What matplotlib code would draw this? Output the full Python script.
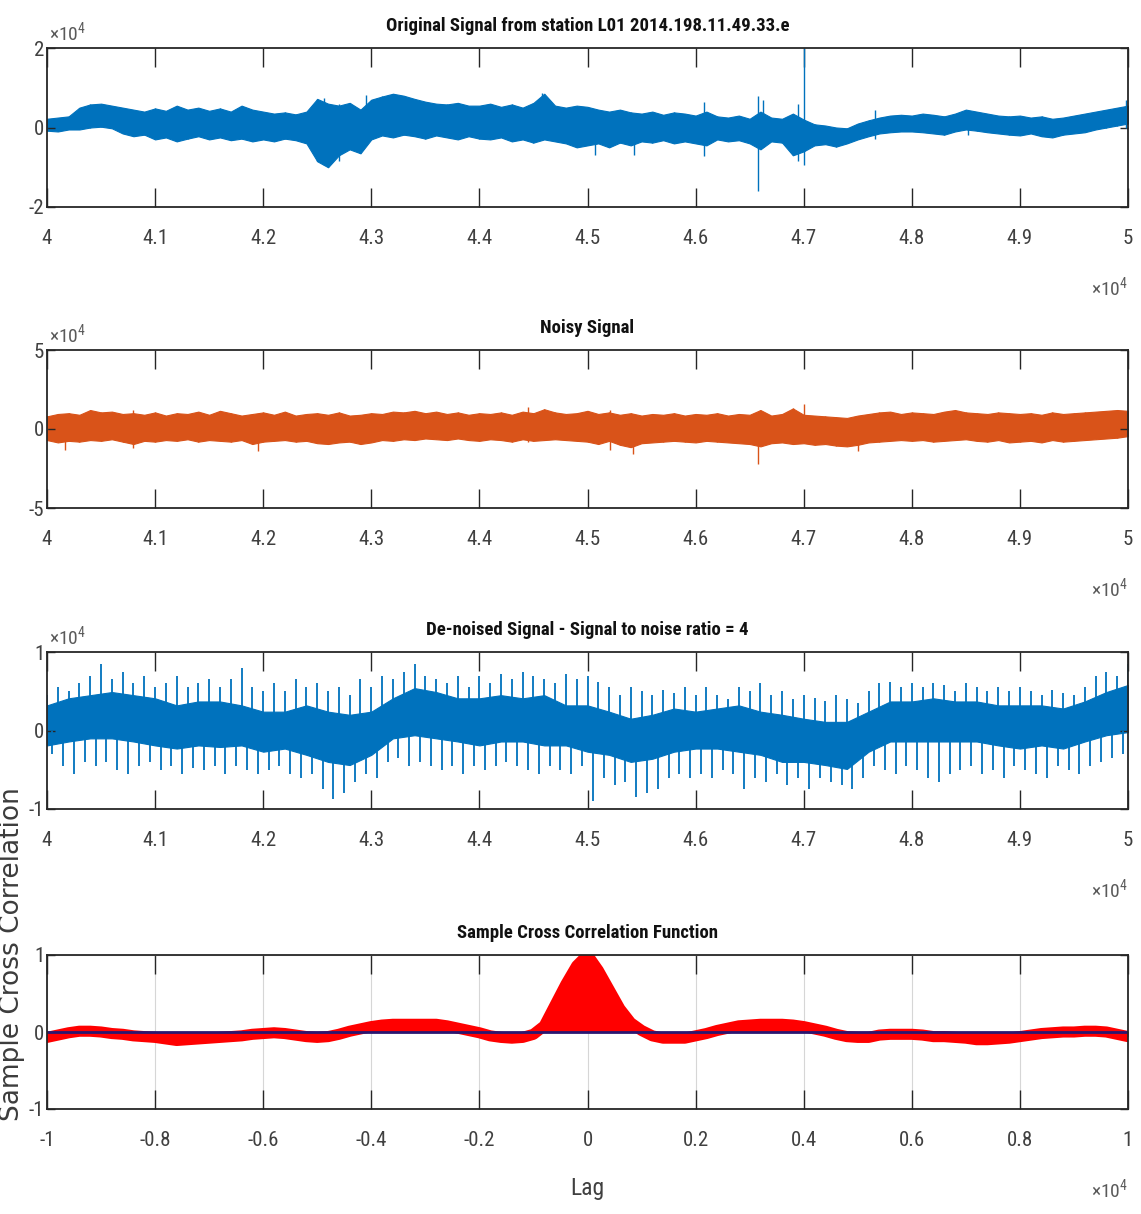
import matplotlib
matplotlib.use('Agg')
import matplotlib.pyplot as plt
import numpy as np

# fonts: condensed sans for the squeezed MATLAB look, plain sans for the side label
NARROW = ['Roboto Condensed', 'Noto Sans', 'DejaVu Sans']
plt.rcParams['font.family'] = NARROW
SIDE_FONT = ['DejaVu Sans']

# ---------------- data (x in units of 1e4 samples, y in units of 1e4) -------------
grid_x = [4 + 0.01 * i for i in range(101)]        # reading positions, every 100 samples
grid_x2 = [4 + 0.02 * i for i in range(51)]        # coarser readings, every 200 samples

# original signal, band envelope
orig_hi = [0.22, 0.25, 0.28,
           0.50, 0.58, 0.60, 0.55,
           0.50, 0.45, 0.40,
           0.48, 0.42, 0.55, 0.45, 0.50, 0.42, 0.48, 0.40, 0.55, 0.45,
           0.40, 0.35, 0.38, 0.33, 0.40,
           0.72, 0.60, 0.55, 0.62, 0.45,
           0.70, 0.78, 0.85, 0.80, 0.72, 0.65, 0.60, 0.58, 0.62, 0.55,
           0.55, 0.60, 0.52, 0.58, 0.50, 0.62, 0.85, 0.55, 0.50, 0.55,
           0.52, 0.45, 0.40, 0.45, 0.38, 0.35, 0.40, 0.32, 0.38, 0.35,
           0.30, 0.40, 0.28, 0.25, 0.30, 0.22, 0.40, 0.25, 0.22, 0.35,
           0.20, 0.08, 0.05, 0.00, -0.02, 0.10, 0.18, 0.25, 0.30, 0.32,
           0.30, 0.35, 0.32, 0.28, 0.35, 0.45, 0.40, 0.35, 0.30, 0.28,
           0.30, 0.25, 0.28, 0.22, 0.25, 0.30, 0.35, 0.40, 0.45, 0.50,
           0.55]
orig_lo = [-0.08, -0.10, -0.05,
           -0.05, 0.00, 0.02, -0.02,
           -0.15, -0.22, -0.18,
           -0.30, -0.25, -0.35, -0.28, -0.22, -0.30, -0.25, -0.32, -0.28, -0.35,
           -0.30, -0.35, -0.28, -0.32, -0.40,
           -0.85, -1.00, -0.70, -0.55, -0.65,
           -0.30, -0.20, -0.25, -0.18, -0.22, -0.28, -0.20, -0.25, -0.30, -0.22,
           -0.28, -0.30, -0.25, -0.35, -0.30, -0.38, -0.30, -0.35, -0.40, -0.50,
           -0.45, -0.40, -0.50, -0.38, -0.45, -0.35, -0.38, -0.32, -0.40, -0.35,
           -0.40, -0.45, -0.30, -0.35, -0.32, -0.40, -0.55, -0.35, -0.38, -0.70,
           -0.60, -0.45, -0.42, -0.48, -0.40, -0.30, -0.22, -0.15, -0.12, -0.10,
           -0.10, -0.12, -0.15, -0.18, -0.10, -0.05, -0.08, -0.12, -0.15, -0.18,
           -0.20, -0.15, -0.22, -0.25, -0.18, -0.15, -0.12, -0.05, 0.00, 0.05,
           0.10]
orig_spk_x = [4.256, 4.270, 4.295, 4.458, 4.507, 4.543, 4.608, 4.658, 4.662, 4.695, 4.700, 4.766, 4.852, 4.998]
orig_spk_hi = [0.75, 0.60, 0.82, 0.88, 0.20, 0.30, 0.65, 0.80, 0.70, 0.60, 2.00, 0.45, 0.40, 0.70]
orig_spk_lo = [-0.95, -0.85, -0.20, -0.30, -0.70, -0.70, -0.72, -1.60, -0.50, -0.85, -0.95, -0.30, -0.20, 0.00]

# noisy signal, band envelope
noisy_hi = [0.80, 0.95, 1.00, 0.90, 1.20, 1.05, 1.10, 0.95, 1.00, 0.90,
            1.05, 0.85, 1.00, 0.95, 1.10, 0.90, 1.15, 1.00, 0.85, 0.95,
            1.05, 0.90, 1.10, 0.85, 0.95, 1.00, 0.90, 1.05, 0.85, 0.90,
            1.00, 0.95, 1.10, 1.05, 1.15, 1.00, 1.10, 0.95, 1.05, 0.90,
            1.00, 0.95, 1.05, 0.90, 1.10, 1.00, 1.25, 1.05, 0.95, 1.00,
            1.15, 0.95, 1.05, 0.90, 1.00, 0.85, 0.95, 0.90, 1.00, 0.85,
            0.95, 0.90, 1.00, 0.85, 0.95, 0.90, 1.20, 0.85, 0.95, 1.30,
            0.90, 0.85, 0.80, 0.75, 0.70, 0.85, 0.95, 1.05, 1.10, 0.95,
            1.05, 1.00, 0.95, 1.10, 1.20, 1.05, 1.00, 0.95, 1.05, 1.00,
            0.95, 1.00, 0.90, 1.05, 0.95, 1.00, 1.05, 1.10, 1.15, 1.20,
            1.15]
noisy_lo = [-0.70, -0.85, -0.75, -0.80, -0.70, -0.75, -0.65, -0.80, -0.95, -0.75,
            -0.80, -0.70, -0.75, -0.65, -0.80, -0.70, -0.75, -0.80, -0.70, -0.95,
            -0.80, -0.75, -0.70, -0.80, -0.75, -0.90, -0.95, -0.85, -0.80, -0.95,
            -0.85, -0.70, -0.75, -0.65, -0.70, -0.60, -0.65, -0.70, -0.60, -0.70,
            -0.75, -0.65, -0.70, -0.80, -0.65, -0.75, -0.70, -0.65, -0.70, -0.75,
            -0.80, -0.95, -0.75, -1.00, -1.15, -0.90, -0.85, -0.80, -0.75, -0.80,
            -0.85, -0.75, -0.80, -0.85, -0.90, -0.95, -1.10, -0.90, -0.85, -0.95,
            -0.90, -1.00, -0.95, -1.05, -1.10, -1.00, -0.85, -0.80, -0.75, -0.70,
            -0.75, -0.70, -0.80, -0.75, -0.70, -0.65, -0.75, -0.80, -0.70, -0.85,
            -0.80, -0.75, -0.85, -0.70, -0.80, -0.75, -0.70, -0.65, -0.60, -0.55,
            -0.45]
noisy_spk_x = [4.017, 4.080, 4.195, 4.445, 4.521, 4.542, 4.658, 4.700, 4.750]
noisy_spk_hi = [0.90, 1.20, 0.80, 1.40, 1.20, 0.90, 1.00, 1.60, 0.70]
noisy_spk_lo = [-1.30, -1.20, -1.40, -0.80, -1.30, -1.60, -2.20, -0.90, -1.40]

# de-noised signal: dense core (every 200 samples), spike peaks and troughs (every 100)
den_core_hi = [0.32, 0.41, 0.45, 0.49, 0.45, 0.41, 0.32, 0.37, 0.37, 0.32,
               0.24, 0.24, 0.32, 0.24, 0.20, 0.24, 0.41, 0.54, 0.49, 0.41,
               0.41, 0.45, 0.41, 0.45, 0.32, 0.32, 0.24, 0.15, 0.20, 0.28,
               0.24, 0.28, 0.32, 0.24, 0.20, 0.15, 0.11, 0.11, 0.24, 0.37,
               0.37, 0.41, 0.37, 0.37, 0.32, 0.32, 0.32, 0.28, 0.37, 0.49, 0.58]
den_core_lo = [-0.19, -0.14, -0.10, -0.10, -0.14, -0.19, -0.23, -0.19, -0.21, -0.19,
               -0.27, -0.23, -0.31, -0.40, -0.44, -0.31, -0.10, -0.06, -0.10, -0.14,
               -0.19, -0.14, -0.14, -0.19, -0.19, -0.27, -0.31, -0.40, -0.36, -0.27,
               -0.23, -0.23, -0.27, -0.31, -0.40, -0.40, -0.44, -0.49, -0.27, -0.14,
               -0.14, -0.14, -0.14, -0.14, -0.19, -0.23, -0.19, -0.23, -0.14, -0.06, -0.02]
den_spk_hi = [0.45, 0.55, 0.50, 0.60, 0.70, 0.85, 0.65, 0.75, 0.60, 0.70,
              0.55, 0.60, 0.70, 0.55, 0.60, 0.65, 0.55, 0.65, 0.80, 0.55,
              0.50, 0.60, 0.50, 0.65, 0.55, 0.60, 0.50, 0.55, 0.45, 0.65,
              0.55, 0.70, 0.65, 0.75, 0.85, 0.70, 0.65, 0.60, 0.70, 0.55,
              0.70, 0.60, 0.72, 0.65, 0.75, 0.70, 0.65, 0.60, 0.72, 0.65,
              0.70, 0.62, 0.55, 0.45, 0.55, 0.50, 0.45, 0.52, 0.48, 0.55,
              0.45, 0.55, 0.45, 0.40, 0.55, 0.50, 0.60, 0.45, 0.50, 0.40,
              0.45, 0.42, 0.38, 0.45, 0.40, 0.35, 0.50, 0.60, 0.62, 0.55,
              0.60, 0.55, 0.60, 0.58, 0.50, 0.60, 0.55, 0.50, 0.55, 0.50,
              0.55, 0.50, 0.45, 0.52, 0.48, 0.45, 0.55, 0.70, 0.75, 0.70, 0.85]
den_spk_lo = [-0.30, -0.45, -0.55, -0.40, -0.45, -0.40, -0.50, -0.55, -0.45, -0.40,
              -0.50, -0.45, -0.55, -0.48, -0.50, -0.45, -0.55, -0.45, -0.50, -0.55,
              -0.50, -0.45, -0.55, -0.60, -0.55, -0.75, -0.87, -0.80, -0.65, -0.55,
              -0.60, -0.40, -0.35, -0.45, -0.40, -0.45, -0.50, -0.45, -0.55, -0.45,
              -0.50, -0.45, -0.40, -0.45, -0.50, -0.55, -0.45, -0.50, -0.55, -0.45,
              -0.90, -0.60, -0.70, -0.65, -0.85, -0.80, -0.75, -0.60, -0.55, -0.60,
              -0.55, -0.60, -0.50, -0.55, -0.75, -0.60, -0.65, -0.55, -0.70, -0.60,
              -0.75, -0.60, -0.65, -0.70, -0.75, -0.60, -0.45, -0.50, -0.55, -0.45,
              -0.50, -0.60, -0.65, -0.55, -0.50, -0.45, -0.55, -0.50, -0.60, -0.45,
              -0.50, -0.55, -0.60, -0.45, -0.50, -0.55, -0.45, -0.40, -0.35, -0.30, -0.25]
den_trough_x = [x + 0.005 for x in grid_x]          # troughs read half way between peaks

# sample cross correlation, lag in units of 1e4, every 200 lags
lags = [-1 + 0.02 * i for i in range(101)]
xcorr = [-0.07, -0.04, -0.01, 0.01, 0.01, 0.00, -0.02, -0.03, -0.05, -0.06,
         -0.07, -0.09, -0.11, -0.10, -0.09, -0.08, -0.07, -0.06, -0.05, -0.03,
         -0.02, -0.01, -0.02, -0.04, -0.06, -0.07, -0.06, -0.03, 0.01, 0.04,
         0.07, 0.09, 0.10, 0.10, 0.10, 0.10, 0.10, 0.08, 0.05, 0.02,
         -0.01, -0.05, -0.07, -0.08, -0.07, -0.03, 0.08,
         0.35, 0.62, 0.86, 1.00, 0.80, 0.55, 0.30, 0.12, 0.02,
         -0.05, -0.08, -0.08, -0.08, -0.05, -0.02, 0.02, 0.05, 0.08, 0.09,
         0.10, 0.10, 0.10, 0.09, 0.07, 0.04, 0.01, -0.03, -0.06, -0.07,
         -0.07, -0.04, -0.03, -0.03, -0.03, -0.04, -0.06, -0.06, -0.07, -0.08,
         -0.10, -0.10, -0.09, -0.08, -0.06, -0.04, -0.02, -0.01, 0.00, 0.00,
         0.01, 0.01, 0.00, -0.03, -0.06]

sig_ticks = [4, 4.1, 4.2, 4.3, 4.4, 4.5, 4.6, 4.7, 4.8, 4.9, 5]
sig_ticklabels = ['4', '4.1', '4.2', '4.3', '4.4', '4.5', '4.6', '4.7', '4.8', '4.9', '5']
lag_ticks = [-1, -0.8, -0.6, -0.4, -0.2, 0, 0.2, 0.4, 0.6, 0.8, 1]
lag_ticklabels = ['-1', '-0.8', '-0.6', '-0.4', '-0.2', '0', '0.2', '0.4', '0.6', '0.8', '1']

titles = ['Original Signal from station L01 2014.198.11.49.33.e',
          'Noisy Signal',
          'De-noised Signal - Signal to noise ratio = 4',
          'Sample Cross Correlation Function']

# ---------------- layout ----------------
BLUE = '#0072BD'
ORANGE = '#D95319'
TXT = '#404040'
W, H = 1141, 1214
L, R = 47, 1128
boxes = [(48, 207), (350, 508), (652, 809), (955, 1109)]   # top, bottom in pixels

fig = plt.figure(figsize=(W / 100, H / 100), dpi=100)
axes = [fig.add_axes([L / W, 1 - b / H, (R - L) / W, (b - t) / H]) for t, b in boxes]


def px_note(ax, fx, fy, dx, dy, s, **kw):
    # text placed at a pixel offset from an axes-fraction anchor
    ax.annotate(s, xy=(fx, fy), xycoords='axes fraction', xytext=(dx * 0.72, dy * 0.72),
                textcoords='offset points', annotation_clip=False, **kw)


def style(ax, xt, xtl, ylim, yt, title):
    ax.set_xlim(xt[0], xt[-1])
    ax.set_ylim(*ylim)
    ax.set_xticks(xt)
    ax.set_xticklabels(xtl)
    ax.set_yticks(yt)
    ax.set_yticklabels([f'{v:g}' for v in yt])
    ax.tick_params(axis='x', direction='in', length=14, width=1.0, top=True, pad=16,
                   labelsize=15, labelcolor=TXT, color='#262626')
    ax.tick_params(axis='y', direction='in', length=6, width=1.0, right=True, pad=2,
                   labelsize=15, labelcolor=TXT, color='#262626')
    for sp in ax.spines.values():
        sp.set_linewidth(1.3)
        sp.set_color('#262626')
    ax.set_title(title, fontsize=13.5, fontweight='bold', pad=12, color='#111111')


exp_txt = r'$\mathregular{\times10^{4}}$'

# panel 1: original
ax = axes[0]
ax.fill_between(grid_x, orig_lo, orig_hi, color=BLUE, lw=0.8)
ax.vlines(grid_x, orig_lo, orig_hi, color=BLUE, lw=1.0)
ax.vlines(orig_spk_x, orig_spk_lo, orig_spk_hi, color=BLUE, lw=1.0)
style(ax, sig_ticks, sig_ticklabels, (-2, 2), [-2, 0, 2], titles[0])

# panel 2: noisy
ax = axes[1]
ax.fill_between(grid_x, noisy_lo, noisy_hi, color=ORANGE, lw=0.8)
ax.vlines(grid_x, noisy_lo, noisy_hi, color=ORANGE, lw=1.0)
ax.vlines(noisy_spk_x, noisy_spk_lo, noisy_spk_hi, color=ORANGE, lw=1.0)
style(ax, sig_ticks, sig_ticklabels, (-5, 5), [-5, 0, 5], titles[1])

# panel 3: de-noised, dense core with upward and downward spikes
ax = axes[2]
ax.fill_between(grid_x2, den_core_lo, den_core_hi, color=BLUE, lw=0.8)
ax.vlines(grid_x, 0, den_spk_hi, color=BLUE, lw=1.3)
ax.vlines(den_trough_x, den_spk_lo, 0, color=BLUE, lw=1.3)
style(ax, sig_ticks, sig_ticklabels, (-1, 1), [-1, 0, 1], titles[2])

# panel 4: cross correlation
ax = axes[3]
ax.grid(True, color='#d6d6d6', lw=0.8)
ax.set_axisbelow(True)
ax.fill_between(lags, 0, xcorr, color='#FF0000', lw=0)
ax.plot(lags, xcorr, color='#FF0000', lw=8, solid_capstyle='round')
ax.axhline(0, color='#2a1670', lw=2)
style(ax, lag_ticks, lag_ticklabels, (-1, 1), [-1, 0, 1], titles[3])
px_note(ax, 0.5, 0, 0, -79, 'Lag', ha='center', va='center', fontsize=17, color=TXT)

for i, ax in enumerate(axes):
    if i < 3:
        px_note(ax, 0, 1, 2, 4, exp_txt, ha='left', va='bottom', fontsize=14, color='#5a5a5a')
    px_note(ax, 1, 0, 0, -92, exp_txt, ha='right', va='bottom', fontsize=14, color='#5a5a5a')

fig.text(12 / W, 1 - 954 / H, 'Sample Cross Correlation', rotation=90, ha='center',
         va='center', fontsize=19, family=SIDE_FONT, color='#3c3c3c')

fig.savefig('out.png', dpi=100)
